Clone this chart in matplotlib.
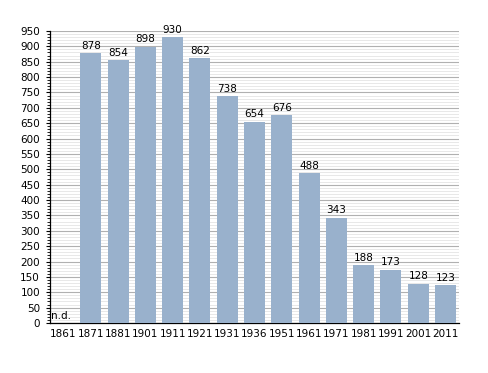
import matplotlib.pyplot as plt
from matplotlib.ticker import MultipleLocator

years = ["1861", "1871", "1881", "1901", "1911", "1921", "1931", "1936",
         "1951", "1961", "1971", "1981", "1991", "2001", "2011"]
population = [0, 878, 854, 898, 930, 862, 738, 654, 676, 488, 343, 188, 173, 128, 123]

fig = plt.figure(figsize=(4.88, 3.73), dpi=100)
ax = fig.add_axes([0.102, 0.134, 0.839, 0.783])

x = list(range(len(years)))
ax.bar(x, population, width=0.77, color="#99b1cc", zorder=3)

for i, v in enumerate(population):
    if i == 0:
        ax.text(i - 0.45, 8, "n.d.", fontsize=7.5, ha="left", va="bottom", zorder=4)
    else:
        ax.text(i, v + 8, str(v), fontsize=7.5, ha="center", va="bottom", zorder=4)

ax.set_xlim(-0.5, len(years) - 0.5)
ax.set_ylim(0, 950)
ax.set_xticks(x)
ax.set_xticklabels(years)
ax.yaxis.set_major_locator(MultipleLocator(50))
ax.yaxis.set_minor_locator(MultipleLocator(10))
ax.grid(axis="y", which="major", color="#b0b0b0", linewidth=0.8, zorder=1)
ax.grid(axis="y", which="minor", color="#e4e4e4", linewidth=0.6, zorder=1)

ax.tick_params(axis="both", labelsize=7.5)
ax.tick_params(axis="x", length=0, pad=4)
ax.tick_params(axis="y", which="major", length=3, direction="out", pad=4)
ax.tick_params(axis="y", which="minor", length=2, direction="out")
for s in ["top", "right"]:
    ax.spines[s].set_visible(False)
ax.spines["left"].set_linewidth(0.9)
ax.spines["bottom"].set_linewidth(0.9)

fig.savefig("out.png", dpi=100)
